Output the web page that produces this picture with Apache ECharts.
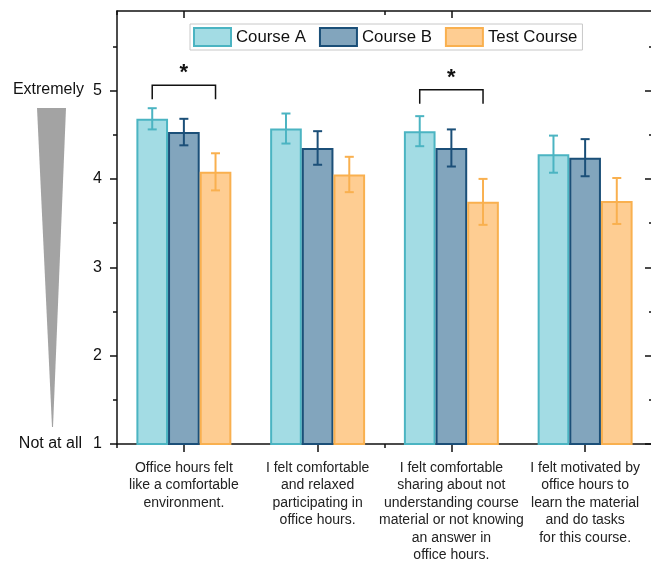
<!DOCTYPE html>
<html>
<head>
<meta charset="utf-8">
<script src="https://cdn.jsdelivr.net/npm/echarts@6/dist/echarts.min.js"></script>
<style>
  html, body { margin: 0; padding: 0; background: #fff; }
  #chart { width: 651px; height: 562px; }
</style>
</head>
<body>
<div id="chart"></div>
<script>
// categories (questions)
var questions = [
  'Office hours felt\nlike a comfortable\nenvironment.',
  'I felt comfortable\nand relaxed\nparticipating in\noffice hours.',
  'I felt comfortable\nsharing about not\nunderstanding course\nmaterial or not knowing\nan answer in\noffice hours.',
  'I felt motivated by\noffice hours to\nlearn the material\nand do tasks\nfor this course.'
];
var seriesNames = ['Course A', 'Course B', 'Test Course'];
// mean ratings
var courseA = [4.68, 4.57, 4.54, 4.28];
var courseB = [4.53, 4.35, 4.35, 4.24];
var testCourse = [4.08, 4.05, 3.74, 3.75];
// error (+/-)
var errA = [0.12, 0.17, 0.17, 0.21];
var errB = [0.15, 0.19, 0.21, 0.21];
var errTest = [0.21, 0.20, 0.26, 0.26];
// significance brackets: [category, top, leg bottom]
var sigBrackets = [[0, 5.06, 4.90], [2, 5.01, 4.85]];
var yTicks = [1, 2, 3, 4, 5];
var yMinorTicks = [1.5, 2.5, 3.5, 4.5, 5.5];

var fills = ['#a3dce4', '#82a5bd', '#fecd92'];
var borders = ['#4bb4c2', '#1b4f78', '#f9b04f'];
var gapRatio = 0.29;

var myChart = echarts.init(document.getElementById('chart'));

function errData(means, errs) {
  var out = [];
  for (var i = 0; i < means.length; i++) {
    out.push([i, means[i] - errs[i], means[i] + errs[i]]);
  }
  return out;
}

function barWidthOf(api) {
  return api.size([1, 0])[0] * (1 - gapRatio) / 3;
}

function errRender(k) {
  return function (params, api) {
    var bw = barWidthOf(api);
    var cx = api.coord([api.value(0), 1])[0] + (k - 1) * bw;
    var lo = api.coord([api.value(0), api.value(1)])[1];
    var hi = api.coord([api.value(0), api.value(2)])[1];
    var st = { stroke: borders[k], lineWidth: 2 };
    var cap = 4.5;
    return {
      type: 'group',
      children: [
        { type: 'line', shape: { x1: cx, y1: lo, x2: cx, y2: hi }, style: st },
        { type: 'line', shape: { x1: cx - cap, y1: hi, x2: cx + cap, y2: hi }, style: st },
        { type: 'line', shape: { x1: cx - cap, y1: lo, x2: cx + cap, y2: lo }, style: st }
      ]
    };
  };
}

function bracketRender(params, api) {
  var bw = barWidthOf(api);
  var c = api.coord([api.value(0), api.value(1)]);
  var yb = api.coord([api.value(0), api.value(2)])[1];
  var x1 = c[0] - bw, x2 = c[0] + bw;
  return {
    type: 'group',
    children: [
      { type: 'polyline', shape: { points: [[x1, yb], [x1, c[1]], [x2, c[1]], [x2, yb]] },
        style: { stroke: '#111', lineWidth: 1.5, fill: null } },
      { type: 'text', x: c[0], y: c[1] - 1,
        style: { text: '*', fontSize: 22, fontWeight: 'bold', fontFamily: 'Liberation Sans, Arial',
                 fill: '#111', align: 'center', verticalAlign: 'bottom' } }
    ]
  };
}

var means = [courseA, courseB, testCourse];
var errs = [errA, errB, errTest];
var series = [];
for (var k = 0; k < 3; k++) {
  series.push({
    name: seriesNames[k],
    type: 'bar',
    xAxisIndex: 0,
    yAxisIndex: 0,
    data: means[k],
    barGap: 0,
    barCategoryGap: (gapRatio * 100) + '%',
    itemStyle: { color: fills[k], borderColor: borders[k], borderWidth: 2 }
  });
}
for (var k = 0; k < 3; k++) {
  series.push({
    name: 'err' + k,
    type: 'custom',
    xAxisIndex: 0,
    yAxisIndex: 0,
    z: 5,
    renderItem: errRender(k),
    encode: { x: 0, y: [1, 2] },
    data: errData(means[k], errs[k])
  });
}
series.push({
  name: 'sig',
  type: 'custom',
  xAxisIndex: 0,
  yAxisIndex: 0,
  z: 5,
  renderItem: bracketRender,
  encode: { x: 0, y: [1, 2] },
  data: sigBrackets
});

var axisLine = { show: true, lineStyle: { color: '#111', width: 1.5 } };
var noLine = { show: false };

var option = {
  animation: false,
  textStyle: { fontFamily: 'Liberation Sans, Arial' },
  grid: { left: 117, right: -1, top: 11, bottom: 118, outerBoundsMode: 'none', containLabel: false },
  legend: {
    data: seriesNames,
    left: 190,
    top: 24,
    padding: [3, 5, 3, 3],
    itemWidth: 37,
    itemHeight: 18,
    itemGap: 13,
    itemTextGap: 5,
    icon: 'rect',
    borderColor: '#c8c8c8',
    borderWidth: 1,
    backgroundColor: '#fff',
    textStyle: { fontSize: 16.8, color: '#111', fontFamily: 'Liberation Sans, Arial' }
  },
  xAxis: [
    {
      type: 'category', position: 'bottom', data: questions,
      axisLine: axisLine,
      axisTick: { show: true, alignWithLabel: true, length: 8, lineStyle: { color: '#111', width: 1.5 } },
      axisLabel: { interval: 0, margin: 15, fontSize: 14, lineHeight: 17.5, color: '#222',
                   fontFamily: 'Liberation Sans, Arial' }
    },
    {
      type: 'category', position: 'bottom', data: questions,
      axisLine: noLine,
      axisTick: { show: true, length: 4, lineStyle: { color: '#111', width: 1.5 } },
      axisLabel: { show: false }
    },
    {
      type: 'category', position: 'top', data: questions,
      axisLine: axisLine,
      axisTick: { show: true, inside: true, alignWithLabel: true, length: 7, lineStyle: { color: '#111', width: 1.5 } },
      axisLabel: { show: false }
    },
    {
      type: 'category', position: 'top', data: questions,
      axisLine: noLine,
      axisTick: { show: true, inside: true, length: 4, lineStyle: { color: '#111', width: 1.5 } },
      axisLabel: { show: false }
    }
  ],
  yAxis: [
    {
      type: 'value', position: 'left', min: 1, max: 5.9,
      splitLine: { show: false },
      axisLine: axisLine,
      axisTick: { show: true, length: 7, customValues: yTicks, lineStyle: { color: '#111', width: 1.5 } },
      axisLabel: { customValues: yTicks, margin: 15, fontSize: 16, color: '#111',
                   fontFamily: 'Liberation Sans, Arial' }
    },
    {
      type: 'value', position: 'left', min: 1, max: 5.9,
      splitLine: { show: false },
      axisLine: noLine,
      axisTick: { show: true, length: 4, customValues: yMinorTicks, lineStyle: { color: '#111', width: 1.5 } },
      axisLabel: { show: false }
    },
    {
      type: 'value', position: 'right', min: 1, max: 5.9,
      splitLine: { show: false },
      axisLine: { show: true, lineStyle: { color: '#ddd', width: 1 } },
      axisTick: { show: true, inside: true, length: 7, customValues: yTicks, lineStyle: { color: '#111', width: 1.5 } },
      axisLabel: { show: false }
    },
    {
      type: 'value', position: 'right', min: 1, max: 5.9,
      splitLine: { show: false },
      axisLine: noLine,
      axisTick: { show: true, inside: true, length: 3, customValues: yMinorTicks, lineStyle: { color: '#111', width: 1.5 } },
      axisLabel: { show: false }
    }
  ],
  graphic: [
    { type: 'polygon', shape: { points: [[37, 108], [66, 108], [53, 427], [52, 427]] },
      style: { fill: '#a3a3a3' } },
    { type: 'text', x: 84, y: 90,
      style: { text: 'Extremely', fontSize: 16, fill: '#111', align: 'right', verticalAlign: 'middle',
               fontFamily: 'Liberation Sans, Arial' } },
    { type: 'text', x: 82, y: 444,
      style: { text: 'Not at all', fontSize: 16, fill: '#111', align: 'right', verticalAlign: 'middle',
               fontFamily: 'Liberation Sans, Arial' } }
  ],
  series: series
};

myChart.setOption(option);
</script>
</body>
</html>
